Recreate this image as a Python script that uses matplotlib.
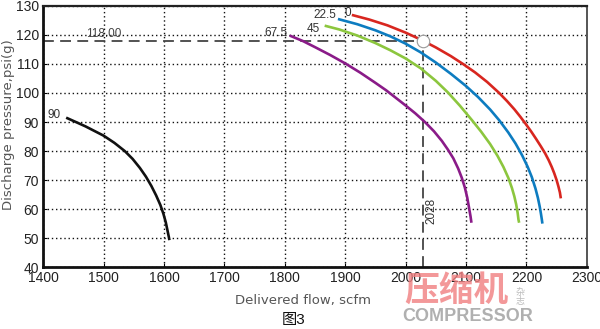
import matplotlib
matplotlib.use("Agg")
import matplotlib.pyplot as plt

plt.rcParams['font.family'] = ['Liberation Sans', 'Noto Sans CJK SC', 'DejaVu Sans']

# curve data: flow (scfm), pressure (psi g)
flow_90 = [1438, 1453, 1470, 1485, 1500, 1518, 1535, 1548, 1560, 1570, 1579, 1587, 1594, 1599,
           1603, 1606, 1608, 1609]
pres_90 = [91.5, 90.1, 88.5, 86.9, 85.3, 82.8, 80, 77.3, 74.2, 71.2, 68, 64.7, 61.4, 58.4,
           55.4, 52.4, 50.4, 49.3]

flow_0 = [1911, 1940, 1970, 2000, 2025, 2050, 2075, 2095, 2115, 2135, 2155, 2168, 2180, 2190,
          2199, 2208, 2216, 2224, 2231, 2237, 2242, 2246, 2250, 2253, 2255.5, 2257]
pres_0 = [126.9, 125.3, 123.3, 120.8, 118.4, 115.7, 112.7, 110, 107.1, 103.8, 100, 97.2, 94.4, 91.8,
          89.3, 86.7, 84.2, 81.6, 79.2, 76.8, 74.5, 72.4, 70, 67.8, 65.7, 63.7]

flow_22 = [1888, 1920, 1950, 1975, 2000, 2025, 2050, 2075, 2100, 2120, 2140, 2155, 2170, 2182,
           2193, 2202, 2209, 2215, 2219, 2222, 2224, 2225.5, 2226.5]
pres_22 = [125.5, 123.7, 121.6, 119.5, 117, 114, 110.5, 106.6, 102.4, 98.6, 94.3, 90.6, 86.4, 82.6,
           78.5, 74.6, 71, 67.1, 63.9, 60.9, 58.5, 56.5, 55]

flow_45 = [1866, 1890, 1920, 1950, 1975, 2000, 2025, 2050, 2070, 2090, 2110, 2125, 2140, 2152,
           2162, 2170, 2176, 2180, 2183, 2185.5, 2187, 2188]
pres_45 = [123.2, 121.9, 119.8, 117.2, 114.7, 111.9, 108.5, 104.2, 100.2, 95.6, 90.6, 86.7, 82.4, 78.4,
           74.5, 70.8, 67.3, 64.4, 61.7, 58.7, 56.2, 55.3]

flow_67 = [1808, 1830, 1850, 1875, 1900, 1925, 1950, 1968, 1984, 2000, 2016, 2032, 2047, 2060,
           2070, 2079, 2087, 2093, 2098, 2102, 2105, 2107.5, 2109]
pres_67 = [119.8, 117.9, 115.8, 113.1, 110.2, 107, 103.5, 100.9, 98.3, 95.7, 93, 90, 86.8, 83.5,
           80.5, 77.5, 74, 70.8, 67.5, 64, 60.5, 57.5, 55.3]

curve_labels = ["0", "22.5", "45", "67.5", "90"]
label_x = [1909, 1886, 1858, 1805, 1429]
label_y = [127.6, 126.9, 122.2, 120.7, 92.4]

op_flow = 2028
op_pres = 118.00

xticks = [1400, 1500, 1600, 1700, 1800, 1900, 2000, 2100, 2200, 2300]
yticks = [40, 50, 60, 70, 80, 90, 100, 110, 120, 130]

fig = plt.figure(figsize=(6.0, 3.29), dpi=100)
ax = fig.add_axes([0.072, 0.188, 0.906, 0.794])

ax.plot(flow_90, pres_90, color="#111111", lw=1.9, zorder=3, solid_capstyle="butt")
ax.plot(flow_0, pres_0, color="#d8261f", lw=1.9, zorder=3, solid_capstyle="butt")
ax.plot(flow_22, pres_22, color="#0d7cc0", lw=1.9, zorder=3, solid_capstyle="butt")
ax.plot(flow_45, pres_45, color="#8cc63e", lw=1.9, zorder=3, solid_capstyle="butt")
ax.plot(flow_67, pres_67, color="#8a1b88", lw=1.9, zorder=3, solid_capstyle="butt")

for t, x, y in zip(curve_labels, label_x, label_y):
    ax.text(x, y, t, fontsize=8.5, color="#333333", ha="right", va="center")

# operating point
ax.plot([1400, op_flow], [op_pres, op_pres], color="#444444", lw=1.3, dashes=(6, 3.5), zorder=2)
ax.plot([op_flow, op_flow], [40, op_pres], color="#444444", lw=1.3, dashes=(6, 3.5), zorder=2)
ax.plot([op_flow], [op_pres], marker="o", ms=9, mfc="white", mec="#999999", mew=0.8, zorder=4)
ax.text(1500, op_pres + 0.4, "%.2f" % op_pres, fontsize=8.5, color="#444444", ha="center", va="bottom")
ax.text(2042, 59.5, str(op_flow), fontsize=8.5, color="#333333", rotation=90,
        ha="center", va="center")

ax.set_xlim(1400, 2300)
ax.set_ylim(40, 130)
ax.set_xticks(xticks)
ax.set_yticks(yticks)
ax.grid(True, color="#111111", lw=1.0, linestyle=(0, (1, 2)))
ax.set_axisbelow(True)
ax.tick_params(direction="in", length=3, width=0.8, labelsize=10, labelcolor="#222222", pad=3)

for s in ["left", "bottom"]:
    ax.spines[s].set_linewidth(2.0)
    ax.spines[s].set_color("#111111")
ax.spines["top"].set_linewidth(1.6)
ax.spines["top"].set_color("#222222")
ax.spines["right"].set_linewidth(1.4)
ax.spines["right"].set_color("#555555")

fig.text(0.505, 0.088, "Delivered flow, scfm", fontsize=9.5, color="#555555", ha="center",
         va="center", family=['DejaVu Sans'])
fig.text(0.014, 0.62, "Discharge pressure,psi(g)", fontsize=9.5, color="#555555", ha="center",
         va="center", rotation=90, family=['DejaVu Sans'])
fig.text(0.49, 0.027, "图3", fontsize=11, color="#111111", ha="center", va="center")

# watermark
fig.text(0.76, 0.115, "压缩机", fontsize=25, color="#f07f80", alpha=0.8, ha="center",
         va="center", fontweight="bold", family=['Noto Sans CJK SC'])
fig.text(0.867, 0.097, "杂\n志", fontsize=6.5, color="#bbbbbb", ha="center", va="center",
         linespacing=1.1, family=['Noto Sans CJK SC'])
fig.text(0.78, 0.038, "COMPRESSOR", fontsize=13, color="#b0b0b0", ha="center", va="center",
         fontweight="bold")

fig.savefig("out.png", dpi=100)
